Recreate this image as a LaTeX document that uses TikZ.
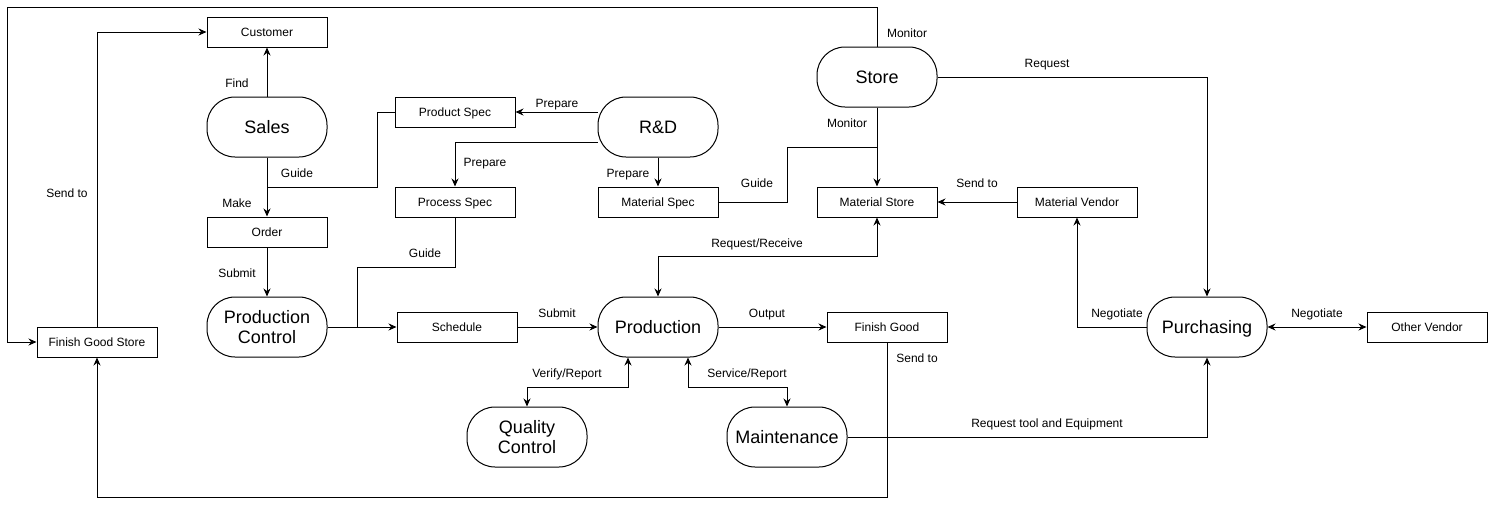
\documentclass[tikz,border=0pt]{standalone}
\usepackage{fontspec}
\setmainfont{Liberation Sans}
\usetikzlibrary{arrows.meta,calc}
\begin{document}
\begin{tikzpicture}[x=1pt,y=-1pt,
  box/.style={draw,line width=1pt,minimum width=120pt,minimum height=30pt,inner sep=0pt,text height=8.6pt,text depth=0pt,font=\fontsize{12}{14}\selectfont},
  proc/.style={draw,line width=1pt,rounded corners=28pt,minimum width=120pt,minimum height=60pt,inner sep=0pt,align=center,text depth=0pt,font=\fontsize{18}{20}\selectfont},
  lbl/.style={font=\fontsize{12}{14}\selectfont,inner sep=0pt,text height=8.6pt,text depth=0pt},
  wire/.style={line width=1pt},
  conn/.style={line width=1pt,-{Stealth[length=8pt,width=7pt]}},
  dconn/.style={line width=1pt,{Stealth[length=8pt,width=7pt]}-{Stealth[length=8pt,width=7pt]}}
]
\useasboundingbox[fill=white] (0,0) rectangle (1488,506);
% boxes
\node[box] (cust) at (267,32) {Customer};
\node[box] (pspec) at (455,112) {Product Spec};
\node[box] (prspec) at (455,202) {Process Spec};
\node[box] (order) at (267,232) {Order};
\node[box] (mspec) at (658,202) {Material Spec};
\node[box] (mstore) at (877,202) {Material Store};
\node[box] (mvend) at (1077,202) {Material Vendor};
\node[box] (fgs) at (97,342) {Finish Good Store};
\node[box] (sched) at (457,327) {Schedule};
\node[box] (fg) at (887,327) {Finish Good};
\node[box] (ov) at (1427,327) {Other Vendor};
% processes
\node[proc,text height=12.9pt] (sales) at (267,127) {Sales};
\node[proc,text height=12.9pt] (rd) at (658,127) {R\&D};
\node[proc,text height=12.9pt] (store) at (877,77) {Store};
\node[proc] (pc) at (267,327) {Production\\Control};
\node[proc,text height=12.9pt] (prod) at (658,327) {Production};
\node[proc,text height=12.9pt] (purch) at (1207,327) {Purchasing};
\node[proc] (qc) at (527,437) {Quality\\Control};
\node[proc,text height=12.9pt] (maint) at (787,437) {Maintenance};
% junctions
\coordinate (j1) at (267,187);
\coordinate (j2) at (357,327);
\coordinate (j3) at (877,147);
\coordinate (tl) at (7,7);
% connectors
\draw[conn] (sales) -- (cust);
\draw[conn] (sales) -- (order);
\draw[wire] (pspec.west) -- ++(-17,0) |- (j1);
\draw[conn] ($(rd.west)+(0,-15)$) -- (pspec.east);
\draw[conn] ($(rd.west)+(0,15)$) -| (prspec.north);
\draw[conn] (rd) -- (mspec);
\draw[conn] (order) -- (pc);
\draw[wire] (prspec.south) -- ++(0,50) -| (j2);
\draw[conn] (pc) -- (sched);
\draw[conn] (sched) -- (prod);
\draw[conn] (prod) -- (fg);
\draw[dconn] (prod.north) -- ++(0,-40) -| (mstore.south);
\draw[wire] (mspec.east) -- ++(69,0) |- (j3);
\draw[conn] (store) -- (mstore);
\draw[conn] (store.north) |- (tl) |- (fgs.west);
\draw[conn] (fgs.north) |- (cust.west);
\draw[conn] (fg.south) -- ++(0,155) -| (fgs.south);
\draw[conn] (mvend) -- (mstore);
\draw[conn] (store.east) -| (purch.north);
\draw[conn] (purch.west) -| (mvend.south);
\draw[dconn] (purch) -- (ov);
\draw[conn] (maint.east) -| (purch.south);
\draw[dconn] ($(prod.south)+(-30,0)$) -- ++(0,30) -| (qc.north);
\draw[dconn] ($(prod.south)+(30,0)$) -- ++(0,30) -| (maint.north);
% labels
\node[lbl] (l1) at (237,83) {Find};
\node[lbl] (l2) at (237,203) {Make};
\node[lbl] (l3) at (297,173) {Guide};
\node[lbl] (l4) at (557,103) {Prepare};
\node[lbl] (l5) at (485,162) {Prepare};
\node[lbl] (l6) at (628,173) {Prepare};
\node[lbl] (l7) at (237,273) {Submit};
\node[lbl] (l8) at (425,253) {Guide};
\node[lbl] (l9) at (557,313) {Submit};
\node[lbl] (l10) at (767,313) {Output};
\node[lbl] (l11) at (757,243) {Request/Receive};
\node[lbl] (l12) at (757,183) {Guide};
\node[lbl] (l13) at (847,123) {Monitor};
\node[lbl] (l14) at (907,33) {Monitor};
\node[lbl] (l15) at (67,193) {Send to};
\node[lbl] (l16) at (917,358) {Send to};
\node[lbl] (l17) at (977,183) {Send to};
\node[lbl] (l18) at (1047,63) {Request};
\node[lbl] (l19) at (1117,313) {Negotiate};
\node[lbl] (l20) at (1317,313) {Negotiate};
\node[lbl] (l21) at (1047,423) {Request tool and Equipment};
\node[lbl] (l22) at (567,373) {Verify/Report};
\node[lbl] (l23) at (747,373) {Service/Report};
\end{tikzpicture}
\end{document}
